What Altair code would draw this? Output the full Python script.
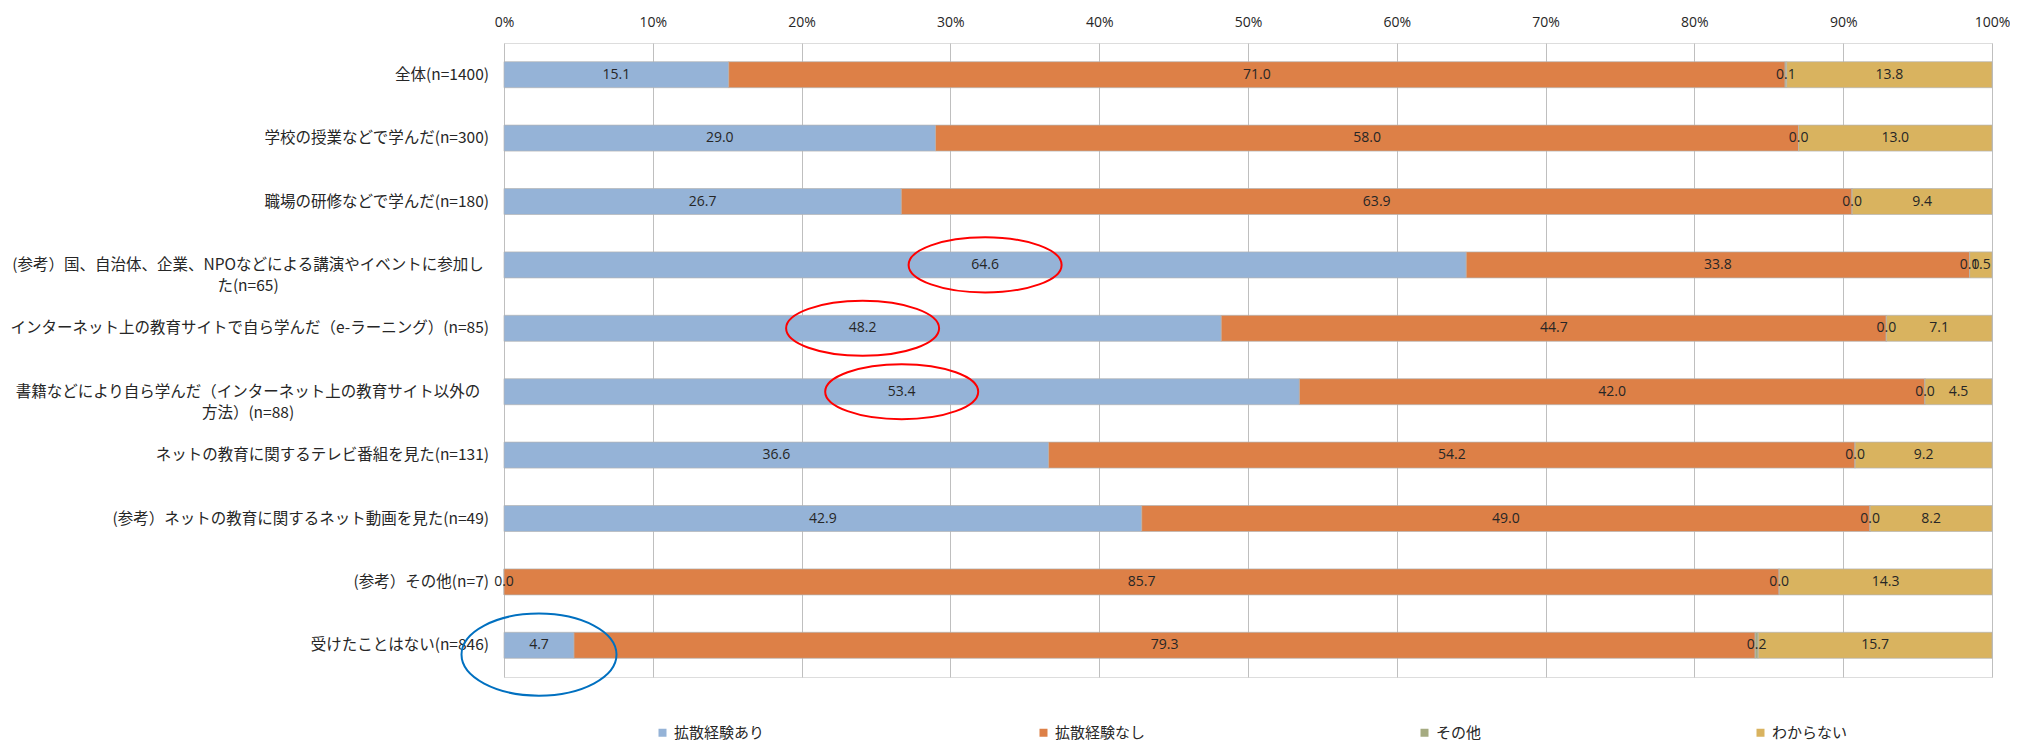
import altair as alt
import pandas as pd

# ---- data ----
categories = [
    "全体(n=1400)",
    "学校の授業などで学んだ(n=300)",
    "職場の研修などで学んだ(n=180)",
    "(参考）国、自治体、企業、NPOなどによる講演やイベントに参加した(n=65)",
    "インターネット上の教育サイトで自ら学んだ（e-ラーニング）(n=85)",
    "書籍などにより自ら学んだ（インターネット上の教育サイト以外の方法）(n=88)",
    "ネットの教育に関するテレビ番組を見た(n=131)",
    "(参考）ネットの教育に関するネット動画を見た(n=49)",
    "(参考）その他(n=7)",
    "受けたことはない(n=846)",
]
label_text = [
    "全体(n=1400)",
    "学校の授業などで学んだ(n=300)",
    "職場の研修などで学んだ(n=180)",
    "(参考）国、自治体、企業、NPOなどによる講演やイベントに参加し\nた(n=65)",
    "インターネット上の教育サイトで自ら学んだ（e-ラーニング）(n=85)",
    "書籍などにより自ら学んだ（インターネット上の教育サイト以外の\n方法）(n=88)",
    "ネットの教育に関するテレビ番組を見た(n=131)",
    "(参考）ネットの教育に関するネット動画を見た(n=49)",
    "(参考）その他(n=7)",
    "受けたことはない(n=846)",
]
series = ["拡散経験あり", "拡散経験なし", "その他", "わからない"]
yes_vals = [15.1, 29.0, 26.7, 64.6, 48.2, 53.4, 36.6, 42.9, 0.0, 4.7]
no_vals = [71.0, 58.0, 63.9, 33.8, 44.7, 42.0, 54.2, 49.0, 85.7, 79.3]
other_vals = [0.1, 0.0, 0.0, 0.0, 0.0, 0.0, 0.0, 0.0, 0.0, 0.2]
unknown_vals = [13.8, 13.0, 9.4, 1.5, 7.1, 4.5, 9.2, 8.2, 14.3, 15.7]
x_ticks = [0, 0.1, 0.2, 0.3, 0.4, 0.5, 0.6, 0.7, 0.8, 0.9, 1.0]
red_highlight = [categories[3], categories[4], categories[5]]
blue_highlight = [categories[9]]

colors = ["#95B3D7", "#DD8047", "#A5AB81", "#D9B35F"]

all_vals = [yes_vals, no_vals, other_vals, unknown_vals]
rows = []
for i, c in enumerate(categories):
    for j, s in enumerate(series):
        v = all_vals[j][i]
        rows.append({"cat": c, "series": s, "o": j, "v": v, "label": f"{v:.1f}"})
df = pd.DataFrame(rows)

lab_df = pd.DataFrame({"cat": categories, "text": label_text})
lab_df["wrapped"] = lab_df["text"].str.contains("\n")

JP = "Noto Sans CJK JP"
NUM = "Open Sans"
TXT = "#262626"

yenc = alt.Y(
    "cat:N",
    sort=categories,
    scale=alt.Scale(domain=categories, paddingInner=0.59, paddingOuter=0.295),
    axis=alt.Axis(labels=False, ticks=False, domain=False, grid=False, title=None),
)
xscale = alt.Scale(domain=[0, 1], nice=False, zero=True)

base = alt.Chart(df).transform_stack(
    stack="v",
    groupby=["cat"],
    sort=[alt.SortField("o", order="ascending")],
    as_=["x0", "x1"],
    offset="normalize",
).transform_calculate(mid="(datum.x0 + datum.x1) / 2")

bars = base.mark_bar(stroke="#B5B5B5", strokeWidth=0.7).encode(
    y=yenc,
    x=alt.X(
        "x0:Q",
        scale=xscale,
        axis=alt.Axis(
            orient="top",
            format=".0%",
            values=x_ticks,
            ticks=False,
            domain=False,
            grid=True,
            gridColor="#BFBFBF",
            gridWidth=1,
            labelPadding=14,
            labelFont=NUM,
            labelFontSize=14,
            labelColor=TXT,
            labelFlush=False,
            labelOverlap=False,
            title=None,
        ),
    ),
    x2="x1:Q",
    color=alt.Color(
        "series:N",
        scale=alt.Scale(domain=series, range=colors),
        sort=series,
        legend=alt.Legend(
            orient="none",
            legendX=151,
            legendY=682,
            direction="horizontal",
            columns=4,
            columnPadding=271,
            symbolType="square",
            symbolSize=64,
            symbolStrokeWidth=0,
            labelFont=JP,
            labelFontSize=15,
            labelColor=TXT,
            labelOffset=4,
            title=None,
        ),
    ),
    order=alt.Order("o:Q"),
)

values = base.mark_text(font=NUM, fontSize=14, color=TXT, baseline="middle").encode(
    y=yenc,
    x=alt.X("mid:Q", scale=xscale),
    text="label:N",
)

lab_single = alt.Chart(lab_df[~lab_df["wrapped"]]).mark_text(
    align="right", baseline="middle", dx=-15, font=JP, fontSize=15.5, color=TXT
).encode(y=yenc, x=alt.datum(0), text="text:N")

lab_wrap = alt.Chart(lab_df[lab_df["wrapped"]]).mark_text(
    align="center", baseline="middle", dx=-256, font=JP, fontSize=15.5, color=TXT,
    lineBreak="\n", lineHeight=21,
).encode(y=yenc, x=alt.datum(0), text="text:N")

red_path = "M-1,0 A1,0.36 0 1,0 1,0 A1,0.36 0 1,0 -1,0 Z"
blue_path = "M-1,0.12 A1,0.53 0 1,0 1,0.12 A1,0.53 0 1,0 -1,0.12 Z"

red_ell = base.transform_filter(
    alt.FieldOneOfPredicate(field="cat", oneOf=red_highlight)
).transform_filter("datum.o == 0").mark_point(
    shape=red_path, size=153 * 153, filled=False, stroke="#FF0000", strokeWidth=2, opacity=1
).encode(y=yenc, x=alt.X("mid:Q", scale=xscale))

blue_ell = base.transform_filter(
    alt.FieldOneOfPredicate(field="cat", oneOf=blue_highlight)
).transform_filter("datum.o == 0").mark_point(
    shape=blue_path, size=155 * 155, filled=False, stroke="#0070C0", strokeWidth=2, opacity=1
).encode(y=yenc, x=alt.X("mid:Q", scale=xscale))

chart = alt.layer(bars, values, lab_single, lab_wrap, red_ell, blue_ell).properties(
    width=1488,
    height=634,
    autosize=alt.AutoSizeParams(type="none"),
    padding={"left": 496, "top": 35, "right": 18, "bottom": 64},
).configure_view(stroke="#AAB6C6", strokeWidth=1).configure(background="white")

chart.save("out.html", embed_options={"renderer": "svg", "actions": False})
